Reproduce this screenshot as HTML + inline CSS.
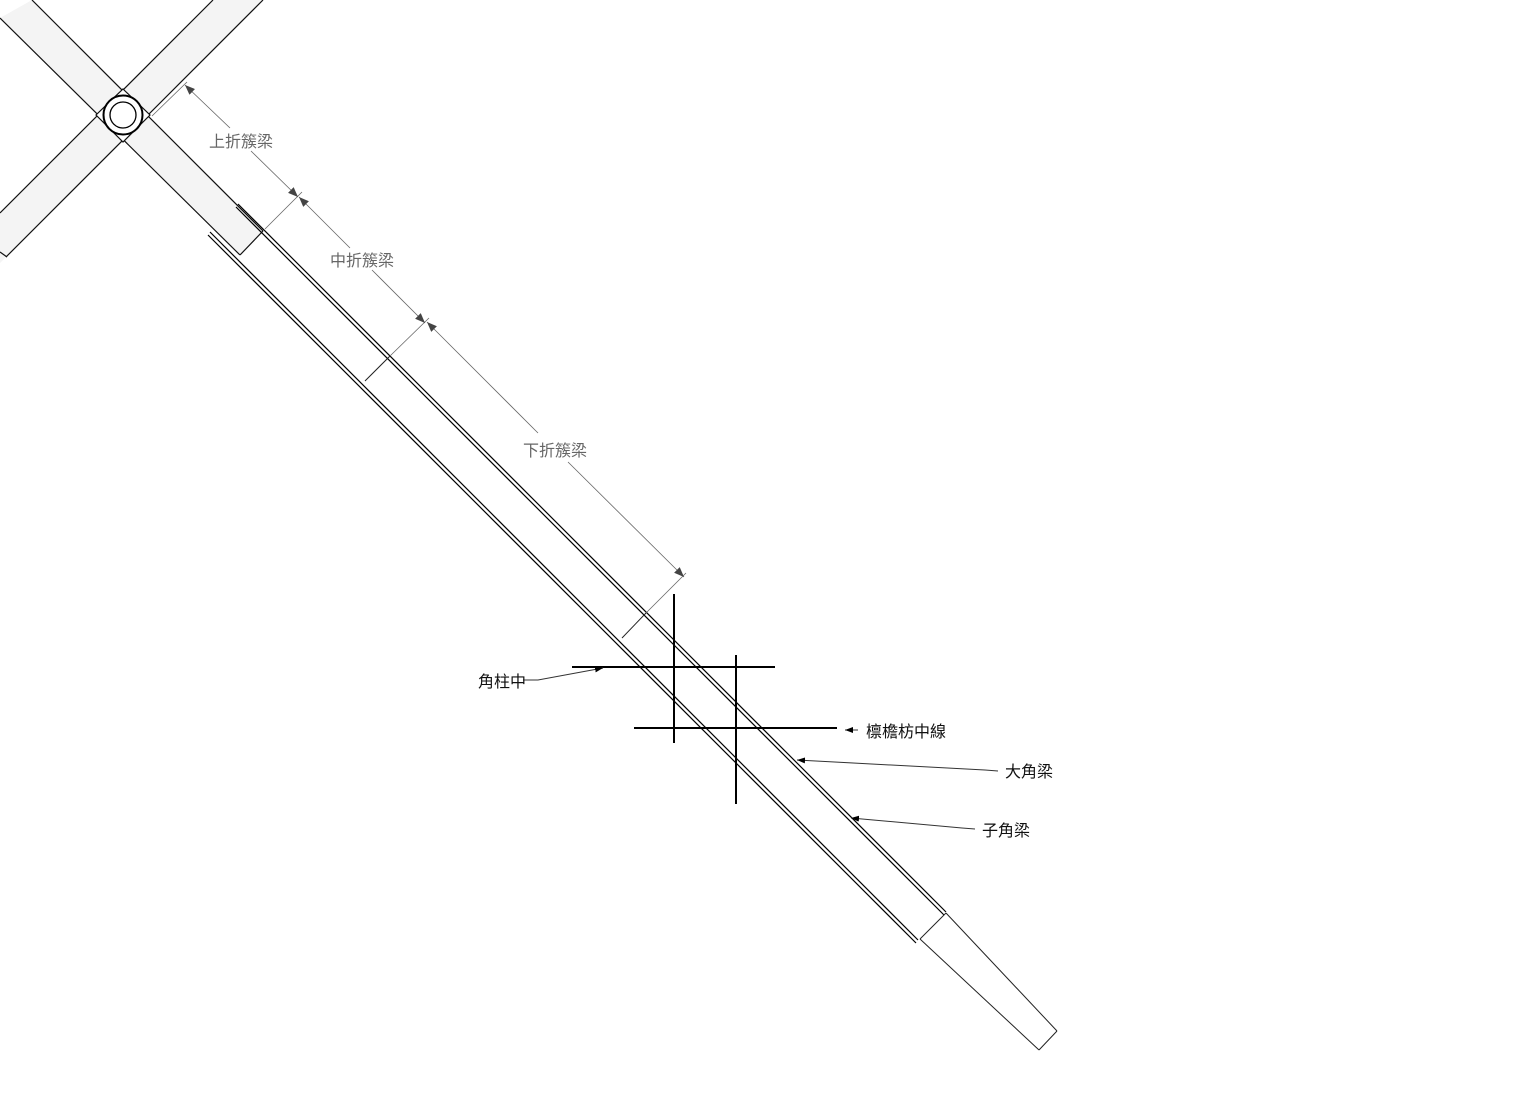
<!DOCTYPE html>
<html><head><meta charset="utf-8"><style>
html,body{margin:0;padding:0;background:#fff;}
svg{display:block;}
text{font-family:"Liberation Sans","Noto Sans CJK TC",sans-serif;font-size:16px;}
</style></head><body>
<svg width="1534" height="1096" viewBox="0 0 1534 1096" xmlns="http://www.w3.org/2000/svg">
<defs>
<marker id="a" markerWidth="10" markerHeight="8" refX="10" refY="4" orient="auto" markerUnits="userSpaceOnUse">
<path d="M0,0 L10,4 L0,8 z" fill="#444"/></marker>
<marker id="s" markerWidth="8" markerHeight="6" refX="8" refY="3" orient="auto" markerUnits="userSpaceOnUse">
<path d="M0,0 L8,3 L0,6 z" fill="#000"/></marker>
</defs>
<polygon points="32,0 263,231 240,255 0,18" fill="#f4f4f4"/>
<polygon points="213,0 263,0 6,257 0,263 0,213" fill="#f4f4f4"/>
<g stroke="#111" stroke-width="1.2" fill="none">
<line x1="32" y1="0" x2="263" y2="231"/>
<line x1="0" y1="18" x2="240" y2="255"/>
<line x1="263" y1="231" x2="240" y2="255"/>
<line x1="213" y1="0" x2="0" y2="213"/>
<line x1="263" y1="0" x2="6" y2="257"/>
<line x1="0" y1="252" x2="7" y2="257"/>
</g>
<polygon points="123,89 150,115 123,142 96,115" fill="#fff" stroke="#111" stroke-width="1.2"/>
<circle cx="123" cy="115" r="19.5" fill="#fff" stroke="#000" stroke-width="2"/>
<circle cx="123" cy="115" r="13" fill="none" stroke="#000" stroke-width="1.3"/>
<g stroke="#000" stroke-width="1.2" fill="none">
<line x1="238" y1="204" x2="946" y2="912"/>
<line x1="236" y1="207" x2="944" y2="915"/>
<line x1="210" y1="232" x2="918" y2="940"/>
<line x1="208" y1="235" x2="916" y2="943"/>
</g>
<g stroke="#222" stroke-width="1" fill="none">
<line x1="390" y1="356" x2="365" y2="381"/>
<line x1="646" y1="613" x2="622" y2="638"/>
<line x1="946" y1="913" x2="920" y2="939"/>
<line x1="946" y1="913" x2="1057" y2="1031"/>
<line x1="920" y1="939" x2="1039" y2="1050"/>
<line x1="1057" y1="1031" x2="1039" y2="1050"/>
</g>
<g stroke="#666" stroke-width="0.8" fill="none">
<line x1="152" y1="116" x2="187" y2="82"/>
<line x1="265" y1="229" x2="302" y2="192"/>
<line x1="390" y1="356" x2="429" y2="318"/>
<line x1="646" y1="613" x2="686" y2="573"/>
<line x1="230" y1="128" x2="185" y2="85" marker-end="url(#a)"/>
<line x1="251" y1="151" x2="298" y2="197" marker-end="url(#a)"/>
<line x1="350" y1="248" x2="299" y2="197" marker-end="url(#a)"/>
<line x1="372" y1="270" x2="425" y2="323" marker-end="url(#a)"/>
<line x1="538" y1="433" x2="427" y2="322" marker-end="url(#a)"/>
<line x1="568" y1="462" x2="684" y2="577" marker-end="url(#a)"/>
</g>
<g fill="#666">
<text x="209" y="147">上折簇梁</text>
<text x="330" y="266">中折簇梁</text>
<text x="523" y="456">下折簇梁</text>
</g>
<g stroke="#000" stroke-width="2" fill="none">
<line x1="674" y1="594" x2="674" y2="743"/>
<line x1="736" y1="655" x2="736" y2="804"/>
<line x1="572" y1="667" x2="775" y2="667"/>
<line x1="634" y1="728" x2="837" y2="728"/>
</g>
<g stroke="#333" stroke-width="1" fill="none">
<polyline points="523,680 538,680 603,668" marker-end="url(#s)"/>
<polyline points="858,730 845,730" marker-end="url(#s)"/>
<polyline points="998,771 985,770 797,760" marker-end="url(#s)"/>
<polyline points="975,829 962,828 851,818" marker-end="url(#s)"/>
</g>
<g fill="#111">
<text x="478" y="687">角柱中</text>
<text x="866" y="737">檩檐枋中線</text>
<text x="1005" y="777">大角梁</text>
<text x="982" y="836">子角梁</text>
</g>
</svg>
</body></html>
